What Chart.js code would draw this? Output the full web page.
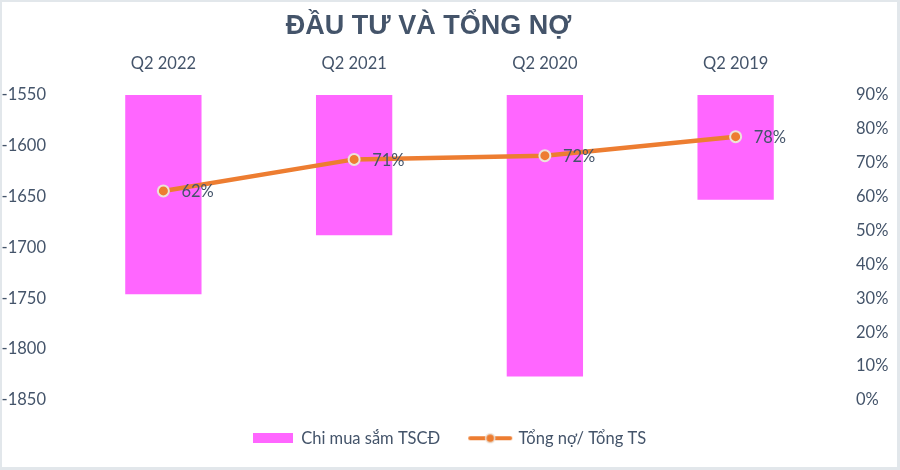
<!DOCTYPE html>
<html>
<head>
<meta charset="utf-8">
<script src="https://cdn.jsdelivr.net/npm/chart.js@4"></script>
<style>
  html, body { margin: 0; padding: 0; background: #e2e7eb; width: 900px; height: 470px; overflow: hidden; }
  #box { position: absolute; left: 2px; top: 2px; width: 895px; height: 465px; background: #ffffff; }
  canvas { display: block; }
</style>
</head>
<body>
<div id="box"><canvas id="c" width="895" height="465"></canvas></div>
<script>
// ---- data ----
const categories = ['Q2 2022', 'Q2 2021', 'Q2 2020', 'Q2 2019'];
const capexValues = [-1746, -1688, -1827, -1653];       // Chi mua sắm TSCĐ
const debtRatio = [0.617, 0.710, 0.721, 0.777];          // Tổng nợ/ Tổng TS
const leftTicks = { min: -1850, max: -1550, step: 50 };
const rightTicks = { min: 0, max: 0.9, step: 0.1 };
const seriesNames = ['Chi mua sắm TSCĐ', 'Tổng nợ/ Tổng TS'];
const titleText = 'ĐẦU TƯ VÀ TỔNG NỢ';

// ---- styles ----
const TEXT = '#44546A';
const PINK = '#FF66FF';
const ORANGE = '#ED7D31';
const RING = '#ECE3DA';
const FONT = 'Lato';

function makeRectImg() {
  const c = document.createElement('canvas');
  c.width = 40; c.height = 10;
  const g = c.getContext('2d');
  g.fillStyle = PINK; g.fillRect(0, 0, 40, 10);
  return c;
}
function makeLineImg() {
  const c = document.createElement('canvas');
  c.width = 46; c.height = 14;
  const g = c.getContext('2d');
  g.strokeStyle = ORANGE; g.lineWidth = 4; g.lineCap = 'round';
  g.beginPath(); g.moveTo(3, 7); g.lineTo(43, 7); g.stroke();
  g.beginPath(); g.arc(23, 7, 4.5, 0, Math.PI * 2);
  g.fillStyle = ORANGE; g.fill();
  g.lineWidth = 1.5; g.strokeStyle = RING; g.stroke();
  return c;
}
const legendImgs = [makeRectImg(), makeLineImg()];

const pointLabels = {
  id: 'pointLabels',
  afterDatasetsDraw(chart) {
    const ctx = chart.ctx;
    const meta = chart.getDatasetMeta(1);
    ctx.save();
    ctx.font = '16.5px ' + FONT;
    ctx.fillStyle = TEXT;
    ctx.textAlign = 'left';
    ctx.textBaseline = 'middle';
    meta.data.forEach((pt, i) => {
      const v = chart.data.datasets[1].data[i];
      ctx.fillText(Math.round(v * 100) + '%', pt.x + 18, pt.y + 1);
    });
    ctx.restore();
  }
};

const chartTitle = {
  id: 'chartTitle',
  afterDraw(chart) {
    const ctx = chart.ctx;
    ctx.save();
    ctx.font = 'bold 27px "Liberation Sans"';
    ctx.fillStyle = TEXT;
    ctx.textAlign = 'center';
    ctx.textBaseline = 'middle';
    ctx.fillText(titleText, 426.5, 24.7);
    ctx.restore();
  }
};

new Chart(document.getElementById('c'), {
  type: 'bar',
  data: {
    labels: categories,
    datasets: [
      {
        label: seriesNames[0],
        data: capexValues,
        base: leftTicks.max,
        backgroundColor: PINK,
        borderWidth: 0,
        barPercentage: 0.4,
        categoryPercentage: 1.0,
        yAxisID: 'y',
        order: 2
      },
      {
        type: 'line',
        label: seriesNames[1],
        data: debtRatio,
        borderColor: ORANGE,
        borderWidth: 4.5,
        pointRadius: 5.5,
        pointBackgroundColor: ORANGE,
        pointBorderColor: RING,
        pointBorderWidth: 2,
        tension: 0,
        yAxisID: 'y1',
        order: 1
      }
    ]
  },
  options: {
    responsive: false,
    animation: false,
    layout: { padding: { top: 40.9, left: 0, right: 0, bottom: 10.5 } },
    plugins: {
      title: { display: false },
      legend: {
        position: 'bottom',
        labels: {
          usePointStyle: true,
          pointStyleWidth: 40,
          padding: 30,
          color: TEXT,
          font: { family: FONT, size: 16.5 },
          generateLabels(chart) {
            return chart.data.datasets.map((ds, i) => ({
              text: ds.label,
              pointStyle: legendImgs[i],
              fillStyle: i === 0 ? PINK : ORANGE,
              strokeStyle: 'transparent',
              lineWidth: 0,
              fontColor: TEXT,
              hidden: false,
              datasetIndex: i
            }));
          }
        }
      },
      tooltip: { enabled: false }
    },
    scales: {
      x: {
        position: 'top',
        grid: { display: false },
        border: { display: false },
        ticks: { color: TEXT, font: { family: FONT, size: 16.5 }, padding: 13 },
        afterFit(s) { s.height = 52.1; }
      },
      y: {
        position: 'left',
        min: leftTicks.min,
        max: leftTicks.max,
        grid: { display: false },
        border: { display: false },
        ticks: {
          stepSize: leftTicks.step,
          color: TEXT,
          font: { family: FONT, size: 16.5 },
          padding: 14,
          callback: v => String(v)
        },
        afterFit(s) { s.width = 66; }
      },
      y1: {
        position: 'right',
        min: rightTicks.min,
        max: rightTicks.max,
        grid: { display: false },
        border: { display: false },
        ticks: {
          stepSize: rightTicks.step,
          color: TEXT,
          font: { family: FONT, size: 16.5 },
          padding: 17,
          callback: v => Math.round(v * 100) + '%'
        },
        afterFit(s) { s.width = 66; }
      }
    }
  },
  plugins: [pointLabels, chartTitle]
});
</script>
</body>
</html>
